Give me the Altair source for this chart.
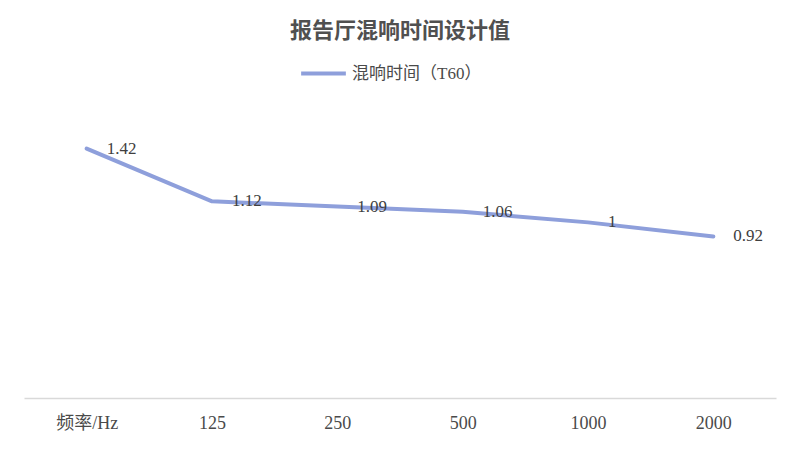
import altair as alt
import pandas as pd

categories = ["频率/Hz", "125", "250", "500", "1000", "2000"]
values = [1.42, 1.12, 1.09, 1.06, 1.00, 0.92]
labels = ["1.42", "1.12", "1.09", "1.06", "1", "0.92"]
series = "混响时间（T60）"

df = pd.DataFrame({"cat": categories, "val": values, "lab": labels, "series": [series] * len(categories)})

FONT = "Liberation Serif, Noto Sans CJK SC"
COLOR = "#8E9FDB"

x = alt.X("cat:N", sort=categories, title=None,
          scale=alt.Scale(type="point", padding=0.5),
          axis=alt.Axis(labelAngle=0, ticks=False, domainColor="#D9D9D9", domainWidth=1.5,
                        labelFont=FONT, labelFontSize=18, labelColor="#4a4a4a",
                        labelPadding=16, grid=False))
y = alt.Y("val:Q", scale=alt.Scale(domain=[0, 1.6]), axis=None)

line = alt.Chart(df).mark_line(strokeWidth=4, strokeCap="round", strokeJoin="round").encode(
    x=x, y=y,
    color=alt.Color("series:N", scale=alt.Scale(range=[COLOR]),
                    legend=alt.Legend(title=None, orient="none", legendX=275, legendY=-68,
                                      symbolType="stroke", symbolStrokeWidth=4, symbolSize=2000,
                                      labelFont=FONT, labelFontSize=17, labelColor="#4a4a4a",
                                      labelOffset=4, padding=0))
)

text = alt.Chart(df).mark_text(align="left", baseline="middle", dx=20, dy=0,
                               font=FONT, fontSize=17, color="#404040").encode(
    x=x, y=y, text="lab:N"
)

chart = alt.layer(line, text).properties(
    width=752, height=281,
    padding={"left": 16, "top": 109, "right": 16, "bottom": 44},
    autosize=alt.AutoSizeParams(type="none"),
    title=alt.TitleParams("报告厅混响时间设计值", font=FONT, fontSize=22, fontWeight="bold",
                          color="#505050", offset=6, anchor="middle"),
    background="white",
).configure_view(stroke=None)

chart.save("out.html", embed_options={"renderer": "svg", "actions": False})
